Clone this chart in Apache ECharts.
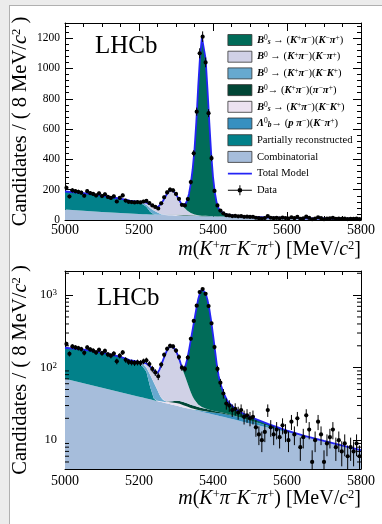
<!DOCTYPE html>
<html>
<head>
<meta charset="utf-8">
<script src="https://cdn.jsdelivr.net/npm/echarts@6/dist/echarts.min.js"></script>
<style>
  html, body { margin: 0; padding: 0; width: 100%; height: 100%; overflow: hidden; background: #ececec; }
  #page { position: absolute; left: 9px; top: 5px; right: 0; bottom: 0; background: #fff;
          border-left: 1px solid #b0b0b0; border-top: 1px solid #b0b0b0; }
  #chart { position: absolute; left: 0; top: 0; width: 382px; height: 524px; }
</style>
</head>
<body>
<div id="page"></div>
<div id="chart"></div>
<script>
// ── data: m(K+ pi- K- pi+) histogram, 8 MeV bins ──
const binWidth = 8
const binCenters = [
  5004, 5012, 5020, 5028, 5036, 5044, 5052, 5060, 5068, 5076,
  5084, 5092, 5100, 5108, 5116, 5124, 5132, 5140, 5148, 5156,
  5164, 5172, 5180, 5188, 5196, 5204, 5212, 5220, 5228, 5236,
  5244, 5252, 5260, 5268, 5276, 5284, 5292, 5300, 5308, 5316,
  5324, 5332, 5340, 5348, 5356, 5364, 5372, 5380, 5388, 5396,
  5404, 5412, 5420, 5428, 5436, 5444, 5452, 5460, 5468, 5476,
  5484, 5492, 5500, 5508, 5516, 5524, 5532, 5540, 5548, 5556,
  5564, 5572, 5580, 5588, 5596, 5604, 5612, 5620, 5628, 5636,
  5644, 5652, 5660, 5668, 5676, 5684, 5692, 5700, 5708, 5716,
  5724, 5732, 5740, 5748, 5756, 5764, 5772, 5780, 5788, 5796,
]
const counts = [
  212, 155, 196, 190, 186, 180, 160, 190, 178, 172,
  162, 176, 158, 170, 152, 146, 156, 122, 146, 162,
  128, 120, 118, 116, 118, 116, 122, 126, 112, 96,
  86, 76, 110, 150, 182, 200, 196, 172, 140, 100,
  96, 138, 250, 440, 715, 1100, 1210, 1040, 705, 408,
  192, 96, 62, 44, 32, 30, 26, 27, 24, 26,
  21, 22, 20, 21, 15, 12, 10, 13, 26, 15,
  12, 14, 11, 16, 13, 10, 18, 12, 20, 8,
  11, 22, 14, 5, 10, 18, 12, 5, 9, 11,
  14, 8, 10, 7, 9, 6, 8, 7, 9, 6,
]

// ── fit components, sampled on a common mass grid ──
const massGrid = [
  5000, 5050, 5100, 5150, 5175, 5200, 5210, 5220, 5230, 5240,
  5250, 5255, 5260, 5265, 5270, 5275, 5280, 5285, 5290, 5295,
  5300, 5305, 5310, 5315, 5320, 5325, 5330, 5335, 5340, 5345,
  5350, 5355, 5360, 5365, 5370, 5375, 5380, 5385, 5390, 5395,
  5400, 5405, 5410, 5415, 5420, 5430, 5440, 5460, 5480, 5500,
  5550, 5600, 5650, 5700, 5750, 5800,
]
const combinatorial = [
  70, 60.8, 52.8, 45.8, 42.7, 39.8, 38.7, 37.6, 36.5, 35.5,
  34.5, 34.1, 33.6, 33.1, 32.6, 32.2, 31.7, 31.3, 30.8, 30.4,
  30.0, 29.6, 29.2, 28.7, 28.3, 27.9, 27.6, 27.2, 26.8, 26.4,
  26.0, 25.7, 25.3, 25.0, 24.6, 24.3, 23.9, 23.6, 23.3, 22.9,
  22.6, 22.3, 22.0, 21.7, 21.4, 20.8, 20.2, 19.1, 18.0, 17.0,
  14.8, 12.8, 11.2, 9.7, 8.4, 7.3,
]
const partReco = [
  118, 116, 108, 94, 82, 72, 65, 50, 18, 2,
  0, 0, 0, 0, 0, 0, 0, 0, 0, 0,
  0, 0, 0, 0, 0, 0, 0, 0, 0, 0,
  0, 0, 0, 0, 0, 0, 0, 0, 0, 0,
  0, 0, 0, 0, 0, 0, 0, 0, 0, 0,
  0, 0, 0, 0, 0, 0,
]
const lbPpiKpi = [
  0, 0, 0, 0, 0, 0, 0, 0, 0, 0,
  0, 0, 0, 0, 0, 0, 0, 0, 0, 0,
  0, 0, 0, 0, 0, 0, 0, 0, 0, 0,
  0.3, 0.4, 0.5, 0.6, 0.7, 0.8, 1.0, 1.1, 1.2, 1.35,
  1.5, 1.6, 1.7, 1.85, 2.0, 2.1, 2.2, 2.2, 2.0, 1.7,
  0.9, 0.4, 0.15, 0.05, 0, 0,
]
const bsKpiKK = [
  0, 0, 0, 0, 0, 0, 0, 0, 0, 0,
  0.3, 0.5, 0.7, 0.8, 1.0, 1.5, 1.8, 2.0, 2.2, 2.4,
  2.5, 2.5, 2.5, 2.3, 2.0, 1.7, 1.5, 1.2, 1.0, 0.8,
  0.6, 0.4, 0.3, 0.2, 0.15, 0.1, 0.1, 0, 0, 0,
  0, 0, 0, 0, 0, 0, 0, 0, 0, 0,
  0, 0, 0, 0, 0, 0,
]
const b0Kpipipi = [
  0, 0, 0, 0, 0, 0, 0, 0, 0, 0,
  0, 0, 0, 0, 0, 0, 0.5, 1.0, 1.5, 2.0,
  2.5, 2.8, 3.0, 3.1, 3.2, 3.2, 3.2, 3.1, 3.0, 2.9,
  2.8, 2.6, 2.5, 2.3, 2.2, 2.1, 2.0, 1.9, 1.7, 1.55,
  1.4, 1.25, 1.1, 1.0, 0.9, 0.7, 0.5, 0.2, 0, 0,
  0, 0, 0, 0, 0, 0,
]
const b0KpiKK = [
  0, 0, 0, 0.5, 2.0, 5.2, 8.3, 12.4, 25.5, 25,
  14, 8, 4, 2, 1, 0.2, 0, 0, 0, 0,
  0, 0, 0, 0, 0, 0, 0, 0, 0, 0,
  0, 0, 0, 0, 0, 0, 0, 0, 0, 0,
  0, 0, 0, 0, 0, 0, 0, 0, 0, 0,
  0, 0, 0, 0, 0, 0,
]
const b0KpiKpi = [
  0, 0, 0, 0, 0.5, 3, 6, 14, 24, 29.5,
  35.2, 50.4, 69.7, 91.1, 113.4, 136.1, 154, 163.7, 163.5, 154.2,
  134, 111.1, 88.3, 64.9, 54, 42, 31, 22, 15, 10,
  6.5, 4, 2.5, 1.5, 1, 0.6, 0.4, 0.2, 0.1, 0,
  0, 0, 0, 0, 0, 0, 0, 0, 0, 0,
  0, 0, 0, 0, 0, 0,
]
const bsKpiKpi = [
  0, 0, 0, 0, 0, 0, 0, 0, 0, 0,
  0, 0, 0, 0, 0, 0, 0, 0, 0, 0,
  1, 2, 3, 5, 9.5, 29.2, 64.7, 118.5, 194.2, 294.9,
  428.8, 616.9, 848.9, 1050.4, 1176.4, 1182.1, 1037.6, 838.2, 618.7, 414.2,
  259.5, 154.9, 88.2, 53.5, 35.7, 19.4, 11.1, 5.5, 3.5, 2.3,
  0.9, 0.3, 0, 0, 0, 0,
]
const totalModel = [
  188, 176.8, 160.8, 140.3, 127.2, 120, 118, 114, 104, 92,
  84, 93, 108, 127, 148, 170, 188, 198, 198, 189,
  170, 148, 126, 104, 97, 104, 128, 172, 240, 335,
  465, 650, 880, 1080, 1205, 1210, 1065, 865, 645, 440,
  285, 180, 113, 78, 60, 43, 34, 27, 23.5, 21,
  16.6, 13.5, 11.35, 9.75, 8.4, 7.3,
]

// axis ticks
const xTicks = { min: 5000, max: 5800, step: 200 }
const linTicks = { min: 0, max: 1300, step: 200 }
const logRange = { min: 4, max: 2150 }
const logTickLabels = { 10: '10', 100: '10{sp|2}', 1000: '10{sp|3}' }
const logMinorTicks = [5, 6, 7, 8, 9, 20, 30, 40, 50, 60, 70, 80, 90, 200, 300, 400, 500, 600, 700, 800, 900, 2000]

// ── styling ──
const FONT = '"Liberation Serif", "Times New Roman", serif'
const componentColors = {
  comb: '#a6bddb', part: '#02818a', lb: '#3690c0', bsKK: '#ece2f0',
  b0pipi: '#014636', b0KK: '#67a9cf', b0Kpi: '#d0d1e6', bsKpi: '#016c59',
}
// stacking order, bottom first
const components = [
  { key: 'comb', values: combinatorial },
  { key: 'part', values: partReco },
  { key: 'lb', values: lbPpiKpi },
  { key: 'bsKK', values: bsKpiKK },
  { key: 'b0pipi', values: b0Kpipipi },
  { key: 'b0KK', values: b0KpiKK },
  { key: 'b0Kpi', values: b0KpiKpi },
  { key: 'bsKpi', values: bsKpiKpi },
]
const legendLabels = {
  bsKpi: '{bi|B}{sp|0}{sb|s} → ({bi|K}{sp|+}{bi|π}{sp|−})({bi|K}{sp|−}{bi|π}{sp|+})',
  b0Kpi: '{bi|B}{sp|0} → ({bi|K}{sp|+}{bi|π}{sp|−})({bi|K}{sp|−}{bi|π}{sp|+})',
  b0KK: '{bi|B}{sp|0} → ({bi|K}{sp|+}{bi|π}{sp|−})({bi|K}{sp|−}{bi|K}{sp|+})',
  b0pipi: '{bi|B}{sp|0}→ ({bi|K}{sp|+}{bi|π}{sp|−})({bi|π}{sp|−}{bi|π}{sp|+})',
  bsKK: '{bi|B}{sp|0}{sb|s} → ({bi|K}{sp|+}{bi|π}{sp|−})({bi|K}{sp|−}{bi|K}{sp|+})',
  lb: '{bi|Λ}{sp|0}{sb|b}→ ({bi|p} {bi|π}{sp|−})({bi|K}{sp|−}{bi|π}{sp|+})',
  part: 'Partially reconstructed',
  comb: 'Combinatorial',
  model: 'Total Model',
  data: 'Data',
}

const xTitle = '{i|m}({i|K}{sp|+}{i|π}{sp|−}{i|K}{sp|−}{i|π}{sp|+}) [MeV/{i|c}{sp|2}]'
const yTitle = 'Candidates / ( 8 MeV/{iy|c}{sp|2} )'
const titleRich = {
  i: { fontFamily: FONT, fontSize: 20, fontStyle: 'italic', lineHeight: 22, color: '#000' },
  iy: { fontFamily: FONT, fontSize: 20.5, fontStyle: 'italic', lineHeight: 22, color: '#000' },
  sp: { fontFamily: FONT, fontSize: 12.5, lineHeight: 11, verticalAlign: 'top', color: '#000' },
}

const grids = [
  { left: 65, top: 23, width: 296, height: 197 },
  { left: 65, top: 271, width: 296, height: 198 },
]

function drawDataPoint(params, api) {
  const m = api.value(0), n = api.value(1)
  const cs = params.coordSys
  const top = cs.y, bottom = cs.y + cs.height
  const clampY = y => Math.min(Math.max(y, top), bottom)
  const c = api.coord([m, n])
  const err = Math.sqrt(n)
  const hi = clampY(api.coord([m, n + err])[1])
  const lo = n - err > 0 ? clampY(api.coord([m, n - err])[1]) : bottom
  const xl = api.coord([m - binWidth / 2, n])[0]
  const xr = api.coord([m + binWidth / 2, n])[0]
  const st = { stroke: '#000', lineWidth: 1 }
  return {
    type: 'group',
    children: [
      { type: 'line', shape: { x1: c[0], y1: lo, x2: c[0], y2: hi }, style: st },
      { type: 'line', shape: { x1: xl, y1: c[1], x2: xr, y2: c[1] }, style: st },
      { type: 'circle', shape: { cx: c[0], cy: c[1], r: 2.1 }, style: { fill: '#000' } },
    ],
  }
}

// log axis minor ticks (2..9 x 10^n) on both frame sides
function drawLogMinor(params, api) {
  const cs = params.coordSys
  const y = api.coord([api.value(0), api.value(1)])[1]
  if (!(y > cs.y && y < cs.y + cs.height)) return
  const st = { stroke: '#000', lineWidth: 1 }
  return {
    type: 'group',
    children: [
      { type: 'line', shape: { x1: cs.x, y1: y, x2: cs.x + 4, y2: y }, style: st },
      { type: 'line', shape: { x1: cs.x + cs.width - 4, y1: y, x2: cs.x + cs.width, y2: y }, style: st },
    ],
  }
}

const plainNumber = v => String(v)

function xAxes(gi, labelMargin, namePad) {
  const base = {
    type: 'value', gridIndex: gi, min: xTicks.min, max: xTicks.max, interval: xTicks.step,
    axisLine: { show: true, onZero: false, lineStyle: { color: '#000', width: 1 } },
    axisTick: { show: true, inside: true, length: 8, lineStyle: { color: '#000' } },
    minorTick: { show: true, splitNumber: 4, length: 4, lineStyle: { color: '#000' } },
    splitLine: { show: false }, minorSplitLine: { show: false },
  }
  return [
    {
      ...base, position: 'bottom',
      axisLabel: { color: '#000', fontFamily: FONT, fontSize: 14, margin: labelMargin, formatter: plainNumber },
      name: xTitle, nameLocation: 'end', nameGap: 0, nameMoveOverlap: false,
      nameTextStyle: {
        fontFamily: FONT, fontSize: 20, lineHeight: 22, color: '#000',
        align: 'right', verticalAlign: 'top', padding: [namePad, 0, 0, 0], rich: titleRich,
      },
    },
    { ...base, position: 'top', axisLabel: { show: false } },
  ]
}

function yName() {
  return {
    name: yTitle, nameLocation: 'middle', nameGap: 33, nameRotate: 90, nameMoveOverlap: false,
    nameTextStyle: { fontFamily: FONT, fontSize: 20.5, lineHeight: 22, color: '#000', rich: titleRich },
  }
}

const yFrame = {
  axisLine: { show: true, lineStyle: { color: '#000', width: 1 } },
  axisTick: { show: true, inside: true, length: 8, lineStyle: { color: '#000' } },
  splitLine: { show: false }, minorSplitLine: { show: false },
}

const linY = {
  type: 'value', gridIndex: 0, min: linTicks.min, max: linTicks.max, interval: linTicks.step,
  ...yFrame,
  minorTick: { show: true, splitNumber: 5, length: 4, lineStyle: { color: '#000' } },
}
const logY = {
  type: 'log', logBase: 10, gridIndex: 1, min: logRange.min, max: logRange.max,
  ...yFrame, minorTick: { show: false },
}

const yAxes = [
  { ...linY, position: 'left', ...yName(),
    axisLabel: { color: '#000', fontFamily: FONT, fontSize: 11.5, margin: 5, showMaxLabel: false, formatter: plainNumber } },
  { ...linY, position: 'right', axisLabel: { show: false } },
  { ...logY, position: 'left', ...yName(),
    axisLabel: {
      color: '#000', fontFamily: FONT, fontSize: 12.5, margin: 8,
      formatter: v => logTickLabels[Math.round(v)] || '',
      rich: { sp: { fontFamily: FONT, fontSize: 9, lineHeight: 8, verticalAlign: 'top', color: '#000' } },
    } },
  { ...logY, position: 'right', axisLabel: { show: false } },
]

function panelSeries(p) {
  const ax = { xAxisIndex: 2 * p, yAxisIndex: 2 * p }
  // value first, mass second: keeps the stack on the y dimension
  const list = components.map(c => ({
    name: c.key, type: 'line', ...ax, stack: 'model' + p, symbol: 'none', silent: true,
    encode: { x: 1, y: 0 },
    lineStyle: { width: 0, opacity: 0 },
    itemStyle: { color: componentColors[c.key] },
    areaStyle: { color: componentColors[c.key], opacity: 1 },
    data: massGrid.map((m, i) => [c.values[i], m]),
  }))
  list.push({
    name: 'model', type: 'line', ...ax, symbol: 'none', silent: true, z: 3,
    lineStyle: { color: '#2424f5', width: 1.8 }, itemStyle: { color: '#2424f5' },
    data: massGrid.map((m, i) => [m, totalModel[i]]),
  })
  list.push({
    name: 'data', type: 'custom', ...ax, z: 4, silent: true,
    renderItem: drawDataPoint, itemStyle: { color: '#000' },
    data: binCenters.map((m, i) => [m, counts[i]]),
  })
  return list
}

const dataIcon = 'path://M0,4.5H24V5.5H0Z M11.5,0H12.5V10H11.5Z M9.6,5A2.4,2.4,0,1,1,14.4,5A2.4,2.4,0,1,1,9.6,5Z'
const modelIcon = 'path://M0,4.2H24V5.8H0Z M0,0H0.01V10H0Z'

const chart = echarts.init(document.getElementById('chart'), null, { renderer: 'canvas' })
chart.setOption({
  animation: false,
  backgroundColor: 'transparent',
  grid: grids,
  xAxis: [...xAxes(0, 3, 19), ...xAxes(1, 5, 19)],
  yAxis: yAxes,
  legend: {
    orient: 'vertical', left: 222.5, top: 29, selectedMode: false,
    itemWidth: 24, itemHeight: 11, itemGap: 4.7,
    itemStyle: { borderColor: '#333', borderWidth: 0.8 },
    data: [
      ...['bsKpi', 'b0Kpi', 'b0KK', 'b0pipi', 'bsKK', 'lb', 'part', 'comb'].map(k => ({ name: k, icon: 'rect' })),
      { name: 'model', icon: modelIcon, itemStyle: { borderWidth: 0, color: '#2424f5' } },
      { name: 'data', icon: dataIcon, itemStyle: { borderWidth: 0, color: '#000' } },
    ],
    formatter: name => legendLabels[name],
    textStyle: {
      fontFamily: FONT, fontSize: 10.6, lineHeight: 12, color: '#000',
      rich: {
        bi: { fontFamily: FONT, fontSize: 10.6, lineHeight: 12, fontStyle: 'italic', fontWeight: 'bold', color: '#000' },
        sp: { fontFamily: FONT, fontSize: 7.5, lineHeight: 7, verticalAlign: 'top', color: '#000' },
        sb: { fontFamily: FONT, fontSize: 7.5, lineHeight: 7, verticalAlign: 'bottom', fontStyle: 'italic', fontWeight: 'bold', color: '#000' },
      },
    },
  },
  graphic: [
    { type: 'text', x: 95, y: 46, silent: true,
      style: { text: 'LHCb', font: '25px ' + FONT, fill: '#000', verticalAlign: 'middle' } },
    { type: 'text', x: 97, y: 298, silent: true,
      style: { text: 'LHCb', font: '25px ' + FONT, fill: '#000', verticalAlign: 'middle' } },
  ],
  series: [
    ...panelSeries(0),
    ...panelSeries(1),
    {
      name: 'logMinor', type: 'custom', xAxisIndex: 2, yAxisIndex: 2, z: 5, silent: true,
      renderItem: drawLogMinor, itemStyle: { color: '#000' },
      data: logMinorTicks.map(v => [xTicks.min, v]),
    },
  ],
})
</script>
</body>
</html>
